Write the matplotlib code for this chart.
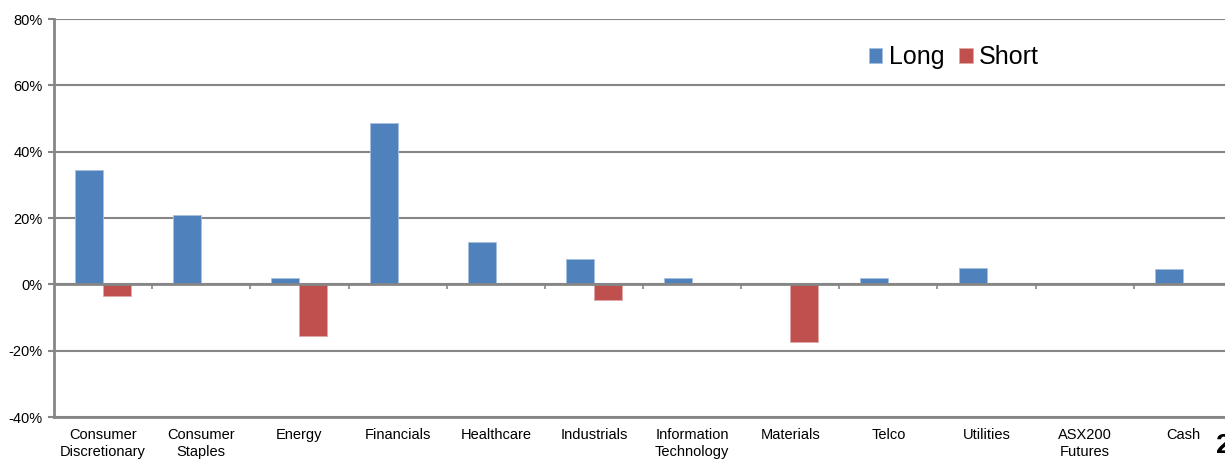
import numpy as np
import matplotlib
matplotlib.use("Agg")
import matplotlib.pyplot as plt
from matplotlib.ticker import FuncFormatter

plt.rcParams['font.family'] = ['Liberation Sans', 'DejaVu Sans']

# data (percent)
sectors = ['Consumer\nDiscretionary', 'Consumer\nStaples', 'Energy', 'Financials',
           'Healthcare', 'Industrials', 'Information\nTechnology', 'Materials',
           'Telco', 'Utilities', 'ASX200\nFutures', 'Cash']
long_pos = [34.4, 21.0, 1.8, 48.7, 12.7, 7.6, 1.8, 0.0, 1.8, 4.8, 0.0, 4.6]
short_pos = [-3.4, 0.0, -15.6, 0.0, 0.0, -4.6, 0.0, -17.5, 0.0, 0.0, 0.0, 0.0]
yticks = [-40, -20, 0, 20, 40, 60, 80]

blue = '#4F81BD'
red = '#C0504D'
grey = '#868686'

fig = plt.figure(figsize=(12.25, 4.59), dpi=100)
ax = fig.add_axes([0.0441, 0.0915, 0.9616, 0.8671])

x = np.arange(len(sectors))
w = 0.285
ax.bar(x - w / 2, long_pos, w, color=blue, edgecolor='#A7C0DE', linewidth=0.6, label='Long', zorder=3)
ax.bar(x + w / 2, short_pos, w, color=red, edgecolor='#E0A8A6', linewidth=0.6, label='Short', zorder=3)

ax.set_xlim(-0.5, len(sectors) - 0.5)
ax.set_ylim(-40, 80)
ax.set_yticks(yticks)
ax.yaxis.set_major_formatter(FuncFormatter(lambda v, p: f'{v:.0f}%'))
ax.grid(axis='y', color=grey, linewidth=1.5, zorder=0)
ax.set_axisbelow(True)

# zero line with category boundary ticks
ax.axhline(0, color=grey, linewidth=2, zorder=4)
bounds = np.arange(len(sectors) + 1) - 0.5
ax.vlines(bounds, -1.3, 0, color=grey, linewidth=1.2, zorder=4)

ax.set_xticks(x)
ax.set_xticklabels(sectors, fontsize=10.5, linespacing=1.25)
ax.tick_params(axis='x', length=0, pad=8)
ax.tick_params(axis='y', length=4, width=1.5, color=grey, labelsize=10.5, pad=4)

for s in ['top', 'right']:
    ax.spines[s].set_visible(False)
for s in ['left', 'bottom']:
    ax.spines[s].set_color(grey)
    ax.spines[s].set_linewidth(2)

ax.legend(loc='upper left', bbox_to_anchor=(0.683, 0.96), ncol=2, frameon=False,
          fontsize=18, handlelength=0.55, handleheight=0.55, handletextpad=0.25,
          columnspacing=0.6, borderaxespad=0)

fig.text(0.993, 0.0, '2', fontsize=20, fontweight='bold', ha='left', va='bottom')

fig.savefig('out.png', dpi=100)
